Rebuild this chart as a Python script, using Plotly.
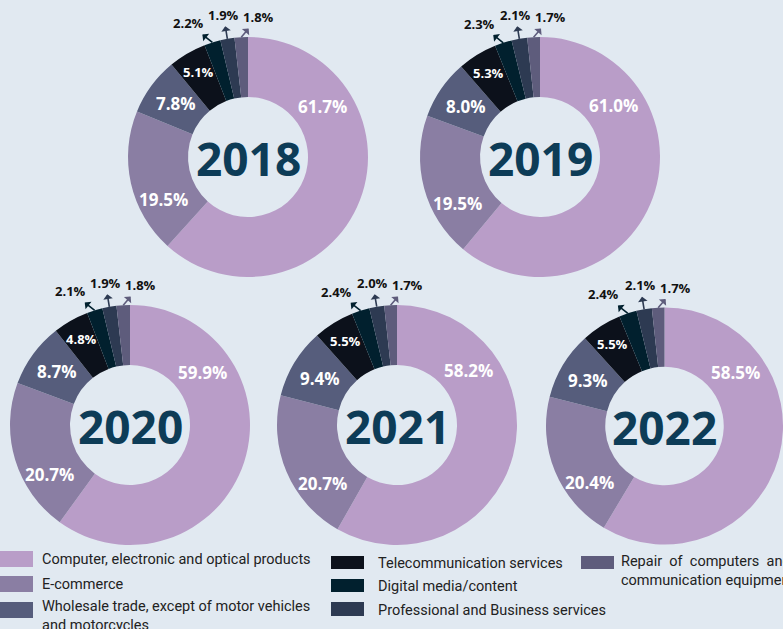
import numpy as np
import plotly.graph_objects as go

# datos por año (porcentajes)
years = ["2018", "2019", "2020", "2021", "2022"]
categories = [
    "Computer, electronic and optical products",
    "E-commerce",
    "Wholesale trade, except of motor vehicles and motorcycles",
    "Telecommunication services",
    "Digital media/content",
    "Professional and Business services",
    "Repair of computers and communication equipment",
]
computer = [61.7, 61.0, 59.9, 58.2, 58.5]
ecommerce = [19.5, 19.5, 20.7, 20.7, 20.4]
wholesale = [7.8, 8.0, 8.7, 9.4, 9.3]
telecom = [5.1, 5.3, 4.8, 5.5, 5.5]
digital = [2.2, 2.3, 2.1, 2.4, 2.4]
professional = [1.9, 2.1, 1.9, 2.0, 2.1]
repair = [1.8, 1.7, 1.8, 1.7, 1.7]

colors = ["#b99dc8", "#8a7ea3", "#565d7c", "#0c111b", "#01202e", "#2d3a52", "#5e5c7c"]
bg = "#e1e9f1"
W, H = 783, 629
R = 120
HOLE = 0.5

# centros de cada dona en pixeles
centers = [(248, 157), (540, 157), (130, 425), (397, 425), (666, 426)]

fig = go.Figure()
annotations = []
shapes = []

def px(x, y):
    return x / W, 1 - y / H

for i, yr in enumerate(years):
    vals = [computer[i], ecommerce[i], wholesale[i], telecom[i], digital[i], professional[i], repair[i]]
    cx, cy = centers[i]
    x0, x1 = max(cx - R, 0), min(cx + R, W)
    r = min(x1 - x0, 2 * R) / 2
    cx = (x0 + x1) / 2
    fig.add_trace(go.Pie(
        labels=categories, values=vals, hole=HOLE, sort=False, direction="clockwise",
        rotation=0, textinfo="none", showlegend=False,
        marker=dict(colors=colors, line=dict(width=0)),
        domain=dict(x=[x0 / W, x1 / W], y=[1 - (cy + r) / H, 1 - (cy - r) / H]),
    ))

    # año al centro
    xc, yc = px(cx, cy + 1)
    annotations.append(dict(x=xc, y=yc, xanchor="center", yanchor="middle", text="<b>" + yr + "</b>",
                            showarrow=False, font=dict(family="Open Sans", size=46, color="#0d3c57")))

    tot = sum(vals)
    cum = np.cumsum([0] + vals) / tot * 360
    # etiquetas dentro de la dona
    frac = [0.25, 0.3, 0.5, 0.5]
    rads = [0.75, 0.79, 0.75, 0.82]
    sizes = [17, 17, 17, 13]
    for k in range(4):
        ang = np.radians(cum[k] + frac[k] * (cum[k + 1] - cum[k]))
        lx = cx + rads[k] * r * np.sin(ang)
        ly = cy - rads[k] * r * np.cos(ang)
        x, y = px(lx, ly)
        annotations.append(dict(x=x, y=y, xanchor="center", yanchor="middle",
                                text="<b>%.1f%%</b>" % vals[k], showarrow=False,
                                font=dict(family="Open Sans", size=sizes[k], color="white")))
    # etiquetas pequeñas con flechas
    offs = [(-24, -19), (-4, -24), (17, -20)]
    for j, k in enumerate([4, 5, 6]):
        ang = np.radians((cum[k] + cum[k + 1]) / 2)
        ex = cx + r * np.sin(ang)
        ey = cy - r * np.cos(ang)
        x, y = px(ex, ey)
        annotations.append(dict(x=x, y=y, ax=offs[j][0], ay=offs[j][1], text="<b>%.1f%%</b>" % vals[k],
                                showarrow=True, arrowside="start", arrowhead=2, arrowsize=1,
                                arrowwidth=1.6, arrowcolor=colors[k], startstandoff=1,
                                font=dict(family="Open Sans", size=13, color="#111111")))

# leyenda manual
legend_items = [
    (0, 0, 551, 567, 40, 559, categories[0]),
    (1, 0, 576, 592, 40, 584, categories[1]),
    (2, 0, 602, 618, 40, 616, "Wholesale trade, except of motor vehicles<br>and motorcycles"),
    (3, 331, 556, 569, 376, 563, categories[3]),
    (4, 331, 579, 592, 376, 586, categories[4]),
    (5, 331, 602, 616, 376, 610, categories[5]),
    (6, 581, 556, 569, 619, 571, "Repair  of  computers  and<br>communication equipment"),
]
for k, sx, sy0, sy1, tx, ty, txt in legend_items:
    shapes.append(dict(type="rect", xref="paper", yref="paper", x0=sx / W, x1=(sx + 33) / W,
                       y0=1 - sy1 / H, y1=1 - sy0 / H, fillcolor=colors[k], line=dict(width=0)))
    x, y = px(tx, ty)
    annotations.append(dict(x=x, y=y, xanchor="left", yanchor="middle", align="left", text=txt,
                            showarrow=False, font=dict(family="Roboto", size=14.5, color="#222222")))

fig.update_layout(
    width=W, height=H, margin=dict(l=0, r=0, t=0, b=0),
    paper_bgcolor=bg, plot_bgcolor=bg,
    annotations=annotations, shapes=shapes,
)

fig.write_html("out.html", config={"displayModeBar": False},
               post_script="document.body.style.margin='0';document.body.style.overflow='hidden';")
